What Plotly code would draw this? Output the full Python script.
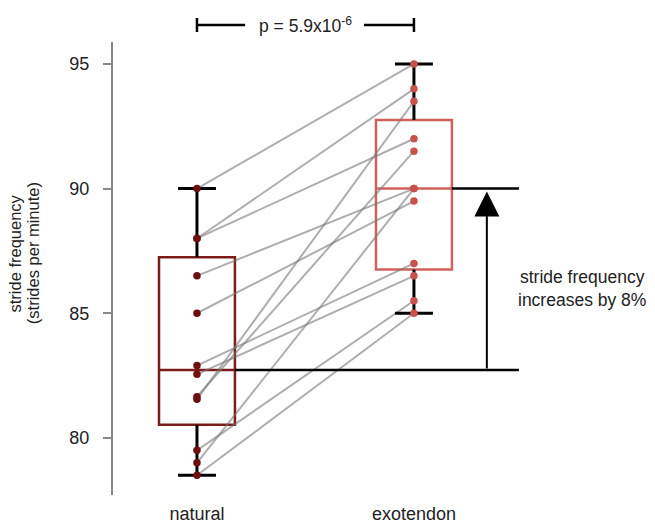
import numpy as np
import plotly.graph_objects as go

# ---- data ----
conditions = ["natural", "exotendon"]
natural = [90.0, 88.0, 88.0, 86.5, 85.0, 82.9, 82.55, 81.65, 81.55, 79.5, 79.0, 78.5]
exotendon = [95.0, 94.0, 92.0, 90.0, 89.5, 87.0, 86.5, 91.5, 93.5, 85.5, 90.0, 85.0]
p_label = "p = 5.9x10<sup>-6</sup>"
effect_label = "stride frequency<br>increases by 8%"
y_title_lines = ["stride frequency", "(strides per minute)"]
y_ticks = [80, 85, 90, 95]

FONT = "Liberation Sans, Arial, Helvetica, sans-serif"
TXT = "#222222"
box_colors = ["#7d1a1a", "#d0625d"]
pt_colors = ["#6e0f0f", "#c9504b"]
xpos = [0, 1]
BOXW = 0.35
CAPW = 0.175


def hinges(v):
    s = np.sort(np.asarray(v, float))
    n = len(s)
    med = np.median(s)
    lo = s[: n // 2]
    hi = s[(n + 1) // 2:]
    return np.median(lo), med, np.median(hi), s.min(), s.max()


stats = [hinges(natural), hinges(exotendon)]

fig = go.Figure()

# paired lines
for a, b in zip(natural, exotendon):
    fig.add_trace(go.Scatter(x=xpos, y=[a, b], mode="lines",
                             line=dict(color="rgba(120,120,120,0.6)", width=2),
                             hoverinfo="skip", showlegend=False))

# boxes + whiskers
for i, (q1, med, q3, mn, mx) in enumerate(stats):
    fig.add_trace(go.Box(x=[xpos[i]], q1=[q1], median=[med], q3=[q3],
                         lowerfence=[q1], upperfence=[q3],
                         width=BOXW, whiskerwidth=0,
                         line=dict(color=box_colors[i], width=2.5),
                         fillcolor="rgba(0,0,0,0)", boxpoints=False,
                         showlegend=False, hoverinfo="skip"))
    x = xpos[i]
    fig.add_trace(go.Scatter(
        x=[x, x, None, x, x, None, x - CAPW / 2, x + CAPW / 2, None, x - CAPW / 2, x + CAPW / 2],
        y=[q3, mx, None, q1, mn, None, mx, mx, None, mn, mn],
        mode="lines", line=dict(color="black", width=3),
        hoverinfo="skip", showlegend=False))

# points
for i, vals in enumerate([natural, exotendon]):
    fig.add_trace(go.Scatter(x=[xpos[i]] * len(vals), y=vals, mode="markers",
                             marker=dict(color=pt_colors[i], size=7.5),
                             hoverinfo="skip", showlegend=False))

nat_med = stats[0][1]
exo_med = stats[1][1]
line_end = 1.484
arrow_x = 1.336
BR_Y = 1.0375

shapes = [
    dict(type="line", xref="x", yref="y", x0=xpos[0] + BOXW / 2, x1=line_end,
         y0=nat_med, y1=nat_med, line=dict(color="black", width=2.5)),
    dict(type="line", xref="x", yref="y", x0=xpos[1] + BOXW / 2, x1=line_end,
         y0=exo_med, y1=exo_med, line=dict(color="black", width=2.5)),
    # p-value bracket
    dict(type="line", xref="x", yref="paper", x0=0, x1=0.222, y0=BR_Y, y1=BR_Y,
         line=dict(color="black", width=2.5)),
    dict(type="line", xref="x", yref="paper", x0=0.77, x1=1, y0=BR_Y, y1=BR_Y,
         line=dict(color="black", width=2.5)),
    dict(type="line", xref="x", yref="paper", x0=0, x1=0, y0=1.022, y1=1.053,
         line=dict(color="black", width=2.5)),
    dict(type="line", xref="x", yref="paper", x0=1, x1=1, y0=1.022, y1=1.053,
         line=dict(color="black", width=2.5)),
]

annotations = [
    dict(x=arrow_x, y=exo_med - 0.12, ax=arrow_x, ay=nat_med, xref="x", yref="y",
         axref="x", ayref="y", showarrow=True, arrowhead=2, arrowsize=2.5,
         arrowwidth=2, arrowcolor="black", text="", standoff=0),
    dict(x=1.774, y=86.0, xref="x", yref="y", showarrow=False,
         text=effect_label, font=dict(family=FONT, size=17.5, color=TXT),
         align="center", xanchor="center", yanchor="middle"),
    dict(x=0.5, y=BR_Y, xref="x", yref="paper", showarrow=False, text=p_label,
         font=dict(family=FONT, size=17.5, color=TXT),
         xanchor="center", yanchor="middle"),
]
# y-axis title, two rotated lines
for xp, line in zip([-0.180, -0.1475], y_title_lines):
    annotations.append(dict(x=xp, y=0.534, xref="paper", yref="paper",
                            showarrow=False, text=line, textangle=-90,
                            xanchor="center", yanchor="middle",
                            font=dict(family=FONT, size=16.5, color=TXT)))

fig.update_layout(
    width=655, height=525,
    margin=dict(l=113, r=0, t=42, b=30),
    plot_bgcolor="white", paper_bgcolor="white",
    font=dict(family=FONT, size=17, color=TXT),
    shapes=shapes, annotations=annotations,
    showlegend=False,
    xaxis=dict(range=[-0.387, 2.111], tickvals=xpos, ticktext=conditions,
               showgrid=False, zeroline=False, showline=False, ticks="",
               ticklabelstandoff=6,
               tickfont=dict(family=FONT, size=18, color=TXT)),
    yaxis=dict(range=[77.71, 95.88], tickvals=y_ticks, showgrid=False,
               zeroline=False, showline=True, linecolor="#888", linewidth=2,
               ticks="outside", ticklen=8, tickwidth=1.5, tickcolor="#888",
               ticklabelstandoff=10,
               tickfont=dict(family=FONT, size=18, color=TXT)),
)

fig.write_html("out.html")
